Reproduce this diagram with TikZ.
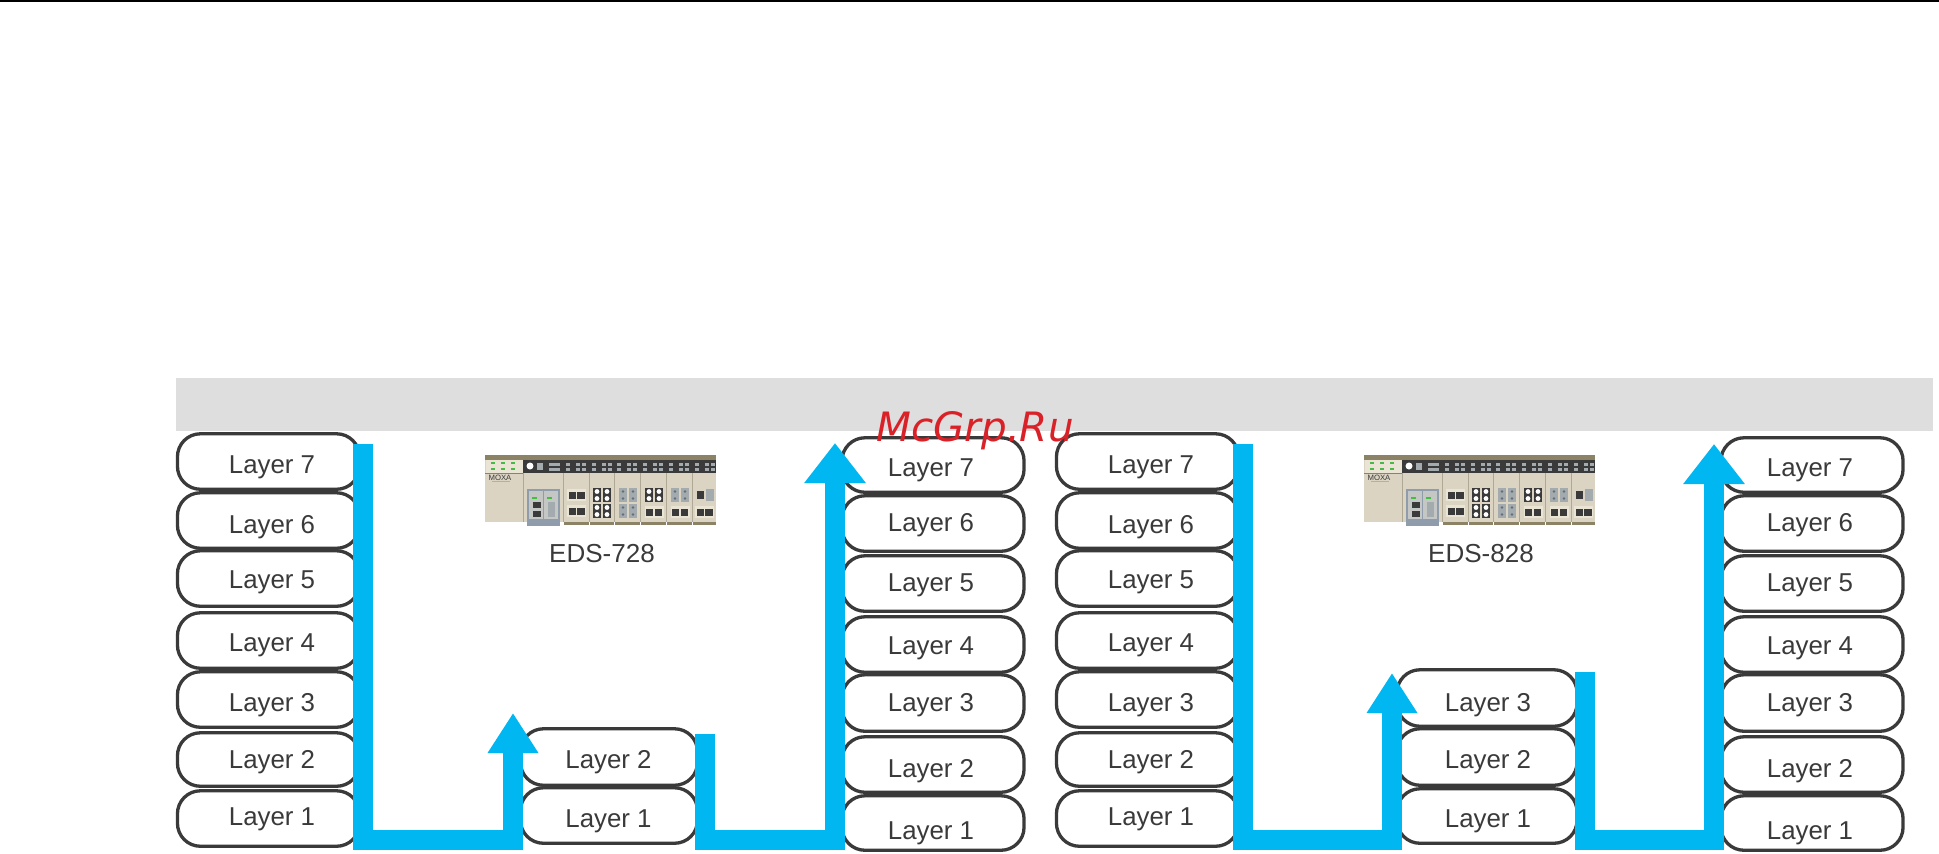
\documentclass[tikz,border=0pt]{standalone}
\usepackage{fontspec}
\setmainfont{Liberation Sans}
\newfontfamily\markfont{DejaVu Sans}
\usepackage{tikz}
\usetikzlibrary{arrows.meta}

\definecolor{flowblue}{HTML}{00B7F1}
\definecolor{bandgray}{HTML}{DEDEDE}
\definecolor{inkgray}{HTML}{3A3A3A}
\definecolor{markred}{HTML}{DA2128}
\definecolor{casebeige}{HTML}{DCD4C3}
\definecolor{caselight}{HTML}{E9E4D4}
\definecolor{caseolive}{HTML}{8C8266}
\definecolor{caseslate}{HTML}{8E9CAB}
\definecolor{portgray}{HTML}{A4ABAE}

\tikzset{
    pill/.style={draw=inkgray,line width=0.033cm,fill=white,rounded corners=0.23cm,
        minimum width=1.82cm,inner sep=0pt},
    layertext/.style={text=inkgray,font=\fontsize{7.35}{9}\selectfont,
        text height=0.18cm,text depth=0pt,inner sep=0pt},
    flowline/.style={draw=flowblue,line width=0.2cm,miter limit=10},
    smallhead/.style={-{Triangle[width=0.48cm,length=0.40cm]}},
    bighead/.style={-{Triangle[width=0.59cm,length=0.40cm]}}
}

% ports of the switch modules, #1 and #2 are the centre
\newcommand{\portrj}[2]{
    \fill[caselight](#1-9.5,#2-6)rectangle(#1+9.5,#2+6);
    \fill[inkgray](#1-8,#2-3.5)rectangle(#1-0.7,#2+3.5);
    \fill[inkgray](#1+0.7,#2-3.5)rectangle(#1+8,#2+3.5);
}
\newcommand{\portfib}[2]{
    \fill[inkgray](#1-9,#2-7)rectangle(#1-1,#2+7);
    \fill[inkgray](#1+1,#2-7)rectangle(#1+9,#2+7);
    \foreach \dy in {-3.5,3.5}{
        \fill[white](#1-5,#2+\dy)circle(2.4);
        \fill[white](#1+5,#2+\dy)circle(2.4);
    }
}
\newcommand{\portsc}[2]{
    \fill[portgray](#1-9,#2-7)rectangle(#1-1,#2+7);
    \fill[portgray](#1+1,#2-7)rectangle(#1+9,#2+7);
    \foreach \dy in {-3.5,3.5}{
        \fill[caseslate!70!black](#1-5,#2+\dy)circle(1.3);
        \fill[caseslate!70!black](#1+5,#2+\dy)circle(1.3);
    }
}

\begin{document}
\begin{tikzpicture}[x=0.01cm,y=-0.01cm]
    \useasboundingbox (0,0) rectangle (1939,853);

    % --- Top rule and band ---
    \fill[black](0,0)rectangle(1939,2);
    \fill[bandgray](176,378)rectangle(1933,431);

    % --- Tall stacks ---
    \foreach \dx/\tag in {0/A,879/C}{
        \foreach \n/\ytop/\ybot/\ytext in {7/433/490/464,6/492/549/524,5/550/607/579,4/612/669/642,3/671/728/702,2/732/787/759,1/790/847/816}{
            \pgfmathsetmacro{\ymid}{(\ytop+\ybot)/2}
            \pgfmathsetmacro{\xmid}{268.5+\dx}
            \pgfmathsetmacro{\xtext}{272+\dx}
            \node[pill,minimum height=(\ybot-\ytop-1.5)*0.01cm](pill\tag\n) at(\xmid,\ymid){};
            \node[layertext](layer\tag\n) at(\xtext,\ytext){Layer \n};
        }
    }
    \foreach \dx/\tag in {0/B,879/D}{
        \foreach \n/\ytop/\ybot/\ytext in {7/437/493/467,6/495/552/522,5/555/612/582,4/616/673/645,3/674/732/702,2/736/793/768,1/795/851/830}{
            \pgfmathsetmacro{\ymid}{(\ytop+\ybot)/2}
            \pgfmathsetmacro{\xmid}{933+\dx}
            \pgfmathsetmacro{\xtext}{931+\dx}
            \node[pill,minimum height=(\ybot-\ytop-1.5)*0.01cm](pill\tag\n) at(\xmid,\ymid){};
            \node[layertext](layer\tag\n) at(\xtext,\ytext){Layer \n};
        }
    }

    % --- Short stacks ---
    \foreach \n/\ytop/\ybot/\ytext in {2/728/786/759,1/787/844/818}{
        \pgfmathsetmacro{\ymid}{(\ytop+\ybot)/2}
        \node[pill,minimum width=1.77cm,minimum height=(\ybot-\ytop-1.5)*0.01cm](pillM\n) at(609,\ymid){};
        \node[layertext](layerM\n) at(608.5,\ytext){Layer \n};
    }
    \foreach \n/\ytop/\ybot/\ytext in {3/669/727/702,2/728/786/759,1/788/844/818}{
        \pgfmathsetmacro{\ymid}{(\ytop+\ybot)/2}
        \node[pill,minimum width=1.8cm,minimum height=(\ybot-\ytop-1.5)*0.01cm](pillN\n) at(1487,\ymid){};
        \node[layertext](layerN\n) at(1488,\ytext){Layer \n};
    }

    % --- Switch pictures ---
    \foreach \dx in {0,879}{
        \begin{scope}[shift={(\dx,0)}]
            \fill[casebeige](485,455)rectangle(716,522);
            \fill[caseolive](485,455)rectangle(716,460);
            \fill[caselight](486,460)rectangle(523,473);
            \fill[inkgray](523,460)rectangle(716,473);
            \fill[caseolive](485,473)rectangle(523,474);
            \foreach \x in {523,563,589,614,640,666,692}{
                \fill[caseolive!70](\x,473)rectangle(\x+1,522);
            }
            \foreach \x/\w in {564/25,590/24,615/25,641/25,667/25,693/23}{
                \fill[caseolive](\x,522)rectangle(\x+\w,525);
                \foreach \px in {2,12,18}{
                    \fill[portgray](\x+\px,463)rectangle(\x+\px+4,466);
                    \fill[portgray](\x+\px,468)rectangle(\x+\px+4,471);
                }
            }
            \foreach \x in {491,501,511}{
                \fill[green!45!gray](\x,462)rectangle(\x+4,464);
                \fill[green!45!gray](\x,468)rectangle(\x+4,470);
            }
            \node[inner sep=0pt,text=inkgray,font=\fontsize{2.2}{3}\selectfont](moxa\dx) at(500,478){MOXA};
            \fill[inkgray!40](492,481)rectangle(510,482);
            \fill[white](530,466)circle(3.5);
            \fill[portgray](537,463)rectangle(543,470);
            \fill[portgray](549,463)rectangle(560,466);
            \fill[portgray](549,468)rectangle(560,471);
            % CPU cards
            \fill[caseslate](527,489)rectangle(560,526);
            \fill[caselight!60!caseslate](529,491)rectangle(543,519);
            \fill[caselight!60!caseslate](544,491)rectangle(558,519);
            \fill[green!50!gray](532,497)rectangle(537,499);
            \fill[green!50!gray](547,497)rectangle(552,499);
            \fill[inkgray](533,502)rectangle(541,508);
            \fill[inkgray](533,511)rectangle(541,517);
            \fill[portgray](548,502)rectangle(555,517);
            % module ports
            \portrj{576.5}{495}
            \portrj{576.5}{511}
            \portfib{602}{495}
            \portfib{602}{511}
            \portsc{628}{495}
            \portsc{628}{511}
            \portfib{654}{495}
            \portrj{654}{512}
            \portsc{680}{495}
            \portrj{680}{512}
            \fill[inkgray](697,491)rectangle(704,499);
            \fill[portgray](706,489)rectangle(714,501);
            \portrj{704.5}{512}
        \end{scope}
    }
    \node[layertext,font=\fontsize{7.4}{9}\selectfont](labelA) at(602,553){EDS-728};
    \node[layertext,font=\fontsize{7.4}{9}\selectfont](labelB) at(1481,553){EDS-828};

    % --- Flow lines ---
    \coordinate(flowAstart) at(363,444);
    \coordinate(flowAturn) at(513,839.5);
    \coordinate(flowAend) at(513,713);
    \coordinate(flowBstart) at(705,734);
    \coordinate(flowBturn) at(835,839.5);
    \coordinate(flowBend) at(835,443);
    \coordinate(flowCstart) at(1243,444);
    \coordinate(flowCturn) at(1392,839.5);
    \coordinate(flowCend) at(1392,673);
    \coordinate(flowDstart) at(1584.5,672);
    \coordinate(flowDturn) at(1714,839.5);
    \coordinate(flowDend) at(1714,444);
    \draw[flowline,smallhead](flowAstart)|-(flowAturn)--(flowAend);
    \draw[flowline,bighead](flowBstart)|-(flowBturn)--(flowBend);
    \draw[flowline,smallhead](flowCstart)|-(flowCturn)--(flowCend);
    \draw[flowline,bighead](flowDstart)|-(flowDturn)--(flowDend);

    % --- Stamp ---
    \node[inner sep=0pt,text=markred,font=\markfont\itshape\fontsize{11.5}{13}\selectfont,
        text height=0.29cm,text depth=0pt](stamp) at(975,427){McGrp.Ru};
\end{tikzpicture}
\end{document}
